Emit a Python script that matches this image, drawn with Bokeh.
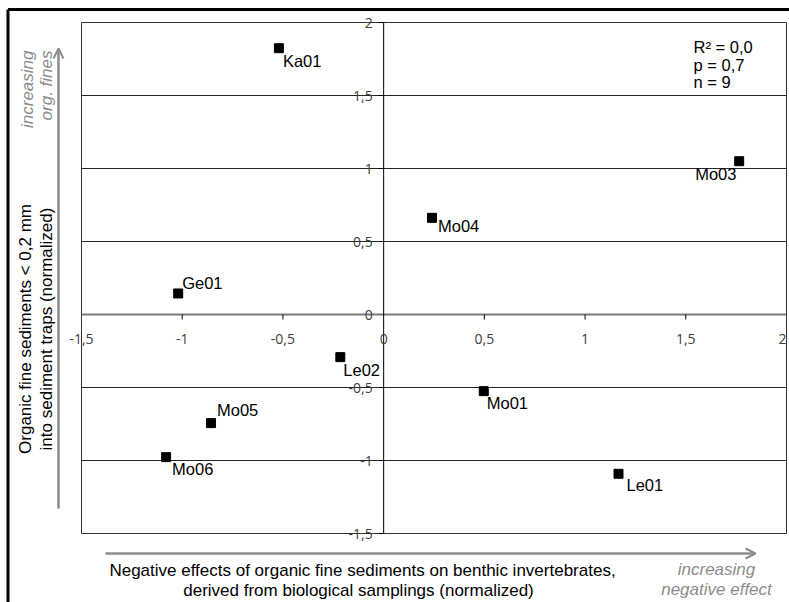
import math
from bokeh.plotting import figure
from bokeh.models import Range1d, ColumnDataSource, Arrow, OpenHead
from bokeh.core.properties import value
from bokeh.embed import file_html
from bokeh.resources import INLINE

# ---------------- data ----------------
sites = ["Ka01", "Ge01", "Mo04", "Mo03", "Le02", "Mo05", "Mo06", "Mo01", "Le01"]
bio_effect = [-0.52, -1.02, 0.24, 1.765, -0.215, -0.857, -1.08, 0.497, 1.166]
org_fines = [1.824, 0.144, 0.662, 1.05, -0.292, -0.744, -0.977, -0.525, -1.091]

x_ticks = [-1.5, -1.0, -0.5, 0.0, 0.5, 1.0, 1.5, 2.0]
x_tick_labels = ["-1,5", "-1", "-0,5", "0", "0,5", "1", "1,5", "2"]
y_ticks = [-1.5, -1.0, -0.5, 0.0, 0.5, 1.0, 1.5, 2.0]
y_tick_labels = ["-1,5", "-1", "-0,5", "0", "0,5", "1", "1,5", "2"]

stats_lines = ["R\u00b2 = 0,0", "p = 0,7", "n = 9"]
x_title = ["Negative effects of organic fine sediments on benthic invertebrates,",
           "derived from biological samplings (normalized)"]
y_title = ["Organic fine sediments < 0,2 mm", "into sediment traps (normalized)"]
x_hint = ["increasing", "negative effect"]
y_hint = ["increasing", "org. fines"]

# label placement (style, screen px offsets from the marker)
label_dx = [4, 4, 6, -44, 3, 6, 6, 3, 8]
label_dy = [13, -10, 8, 13, 13, -13, 12, 12, 11]
# x tick label nudges (keep the last one inside the window)
x_tick_dx = [0, 0, 0, 0, 0, 0, 0, -4]

# ---------------- layout ----------------
W, H = 789, 602
L, R, T, B = 81.0, 786.0, 22.0, 533.0        # plot area in screen px
XMIN, XMAX, YMIN, YMAX = -1.5, 2.0, -1.5, 2.0
sx = (XMAX - XMIN) / (R - L)
sy = (YMAX - YMIN) / (B - T)
x0 = XMIN - L * sx
x1 = XMAX + (W - R) * sx
y1 = YMAX + T * sy
y0 = YMIN - (H - B) * sy


def px(u):
    return x0 + u * sx


def py(v):
    return y1 - v * sy


p = figure(width=W, height=H, x_range=Range1d(x0, x1), y_range=Range1d(y0, y1),
           output_backend="svg", toolbar_location=None, min_border=0)
p.xaxis.visible = False
p.yaxis.visible = False
p.xgrid.visible = False
p.ygrid.visible = False
p.outline_line_color = None
p.background_fill_color = "white"

ARIAL = value("Liberation Sans")
GREY = "#8c8c8c"

# horizontal gridlines (excluding 0, drawn as axis)
grid_y = [t for t in y_ticks if t != 0.0 and t != YMAX]
p.segment(x0=[XMIN] * len(grid_y), x1=[XMAX] * len(grid_y), y0=grid_y, y1=grid_y,
          line_color="#262626", line_width=1)

# plot area border
p.segment(x0=[XMIN, XMIN, XMIN, XMAX], y0=[YMIN, YMAX, YMIN, YMIN],
          x1=[XMAX, XMAX, XMIN, XMAX], y1=[YMIN, YMAX, YMAX, YMAX],
          line_color="#333333", line_width=1)

# axes crossing at origin
p.segment(x0=[XMIN], x1=[XMAX], y0=[0], y1=[0], line_color="#7a7a7a", line_width=2)
p.segment(x0=[0], x1=[0], y0=[YMIN], y1=[YMAX], line_color="#000000", line_width=1)

# tick marks
xt = [t for t in x_ticks if XMIN < t < XMAX and t != 0]
p.segment(x0=xt, x1=xt, y0=[0] * len(xt), y1=[-5 * sy] * len(xt), line_color="#000000", line_width=1)
yt = [t for t in y_ticks if t != 0]
p.segment(x0=[-5 * sx] * len(yt), x1=[0] * len(yt), y0=yt, y1=yt, line_color="#000000", line_width=1)

# tick labels
TICKFONT = value("Open Sans")
xsrc = ColumnDataSource(dict(x=x_ticks, y=[0] * len(x_ticks), t=x_tick_labels, dx=x_tick_dx))
p.text("x", "y", text="t", source=xsrc, x_offset="dx", y_offset=24, text_font=TICKFONT,
       text_font_size="14px", text_color="#404040", text_align="center",
       text_baseline="middle")
p.text(x=[0] * len(y_ticks), y=y_ticks, text=y_tick_labels, text_font=TICKFONT,
       text_font_size="14px", text_color="#404040", text_align="right",
       text_baseline="middle", x_offset=-11)

# data points
src = ColumnDataSource(dict(x=bio_effect, y=org_fines, name=sites, dx=label_dx, dy=label_dy))
p.scatter("x", "y", source=src, marker="square", size=9, fill_color="black", line_color="black")
p.text("x", "y", text="name", source=src, x_offset="dx", y_offset="dy",
       text_font=ARIAL, text_font_size="16.5px", text_color="black",
       text_align="left", text_baseline="alphabetic")

# statistics box text
p.text(x=[px(693)] * 3, y=[py(46.5), py(64), py(81.5)], text=stats_lines, text_font=ARIAL,
       text_font_size="16.5px", text_color="black", text_align="left", text_baseline="alphabetic")

# axis titles
p.text(x=[px(362), px(358)], y=[py(570), py(590)], text=x_title, text_font=ARIAL,
       text_font_size="17px", text_color="black", text_align="center", text_baseline="middle")
p.text(x=[px(25), px(45.5)], y=[py(328.5), py(328.5)], text=y_title, text_font=ARIAL,
       text_font_size="17px", text_color="black", text_align="center", text_baseline="middle",
       angle=math.pi / 2)

# hint texts
p.text(x=[px(716), px(716)], y=[py(569), py(589)], text=x_hint, text_font=ARIAL,
       text_font_style="italic", text_font_size="17px", text_color=GREY,
       text_align="center", text_baseline="middle")
p.text(x=[px(27), px(46)], y=[py(50), py(50)], text=y_hint, text_font=ARIAL,
       text_font_style="italic", text_font_size="17px", text_color=GREY,
       text_align="right", text_baseline="middle", angle=math.pi / 2)

# grey arrows
p.add_layout(Arrow(end=OpenHead(size=10, line_color=GREY, line_width=2),
                   x_start=px(105), y_start=py(553), x_end=px(755), y_end=py(553),
                   line_color=GREY, line_width=2.5))
p.add_layout(Arrow(end=OpenHead(size=10, line_color=GREY, line_width=2),
                   x_start=px(58), y_start=py(508), x_end=px(58), y_end=py(48),
                   line_color=GREY, line_width=2.5))

# outer frame (top and left edges visible)
p.segment(x0=[px(7.5), px(7.5)], y0=[py(9), py(9)], x1=[px(789), px(7.5)], y1=[py(9), py(602)],
          line_color="black", line_width=3)

open("out.html", "w").write(file_html(p, INLINE))
